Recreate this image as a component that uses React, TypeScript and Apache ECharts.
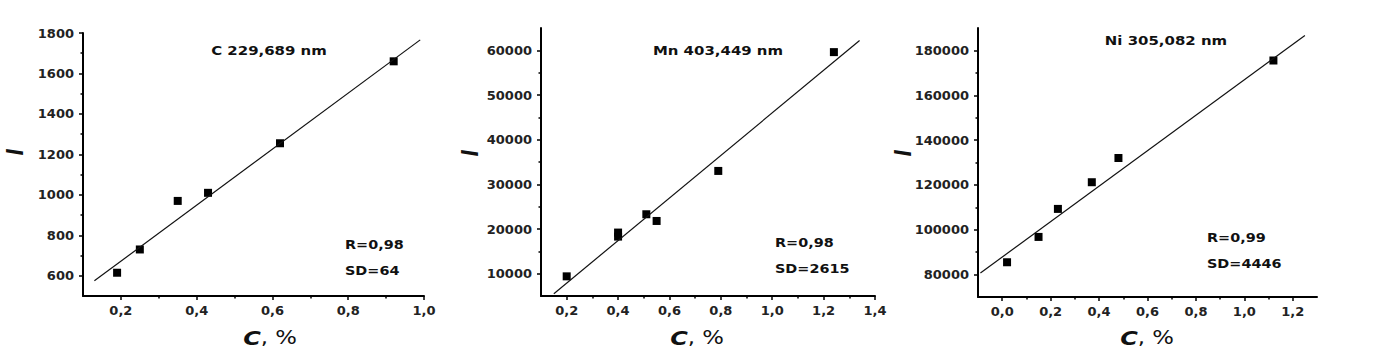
import React, { useEffect, useRef } from "react";
import * as echarts from "echarts";

// ---- Panel 1: C 229,689 nm
const cConc = [0.19, 0.25, 0.35, 0.43, 0.62, 0.92];
const cIntensity = [615, 730, 970, 1010, 1255, 1660];
const cFitConc = [0.13, 0.99];
const cFitIntensity = [575, 1766];
const cXTicks = [0.2, 0.4, 0.6, 0.8, 1.0];
const cXMinor = [0.3, 0.5, 0.7, 0.9];
const cYTicks = [600, 800, 1000, 1200, 1400, 1600, 1800];
const cYMinor = [700, 900, 1100, 1300, 1500, 1700];

// ---- Panel 2: Mn 403,449 nm
const mnConc = [0.2, 0.4, 0.4, 0.51, 0.55, 0.79, 1.24];
const mnIntensity = [9400, 18300, 19200, 23300, 21800, 33000, 59600];
const mnFitConc = [0.15, 1.34];
const mnFitIntensity = [5500, 62200];
const mnXTicks = [0.2, 0.4, 0.6, 0.8, 1.0, 1.2, 1.4];
const mnXMinor = [0.3, 0.5, 0.7, 0.9, 1.1, 1.3];
const mnYTicks = [10000, 20000, 30000, 40000, 50000, 60000];
const mnYMinor = [15000, 25000, 35000, 45000, 55000];

// ---- Panel 3: Ni 305,082 nm
const niConc = [0.02, 0.15, 0.23, 0.37, 0.48, 1.12];
const niIntensity = [85500, 96800, 109300, 121200, 132000, 175500];
const niFitConc = [-0.09, 1.25];
const niFitIntensity = [80700, 186700];
const niXTicks = [0.0, 0.2, 0.4, 0.6, 0.8, 1.0, 1.2];
const niXMinor = [0.1, 0.3, 0.5, 0.7, 0.9, 1.1];
const niYTicks = [80000, 100000, 120000, 140000, 160000, 180000];
const niYMinor = [90000, 110000, 130000, 150000, 170000];

const titles = ["C 229,689 nm", "Mn 403,449 nm", "Ni 305,082 nm"];
const rValues = ["R=0,98", "R=0,98", "R=0,99"];
const sdValues = ["SD=64", "SD=2615", "SD=4446"];

const FONT = "DejaVu Sans";
const INK = "#111";

const zip = (a: number[], b: number[]) => a.map((v, i) => [v, b[i]]);

const panels = [
  {
    grid: { left: 83, top: 33, width: 341, height: 263 },
    x: [0.1, 1.0], y: [500, 1800],
    xTicks: cXTicks, xMinor: cXMinor, yTicks: cYTicks, yMinor: cYMinor,
    pts: zip(cConc, cIntensity), fit: zip(cFitConc, cFitIntensity),
    title: [269, 50], stats: [345, 245], xName: [270, 338], yName: [15, 152],
  },
  {
    grid: { left: 541, top: 28, width: 334, height: 268 },
    x: [0.1, 1.4], y: [5000, 65000],
    xTicks: mnXTicks, xMinor: mnXMinor, yTicks: mnYTicks, yMinor: mnYMinor,
    pts: zip(mnConc, mnIntensity), fit: zip(mnFitConc, mnFitIntensity),
    title: [718, 50], stats: [775, 243], xName: [697, 338], yName: [470, 153],
  },
  {
    grid: { left: 978, top: 28, width: 339, height: 269 },
    x: [-0.1, 1.3], y: [70000, 190000],
    xTicks: niXTicks, xMinor: niXMinor, yTicks: niYTicks, yMinor: niYMinor,
    pts: zip(niConc, niIntensity), fit: zip(niFitConc, niFitIntensity),
    title: [1166, 40], stats: [1207, 238], xName: [1147, 338], yName: [903, 153],
  },
];

const labelStyle = {
  fontFamily: FONT,
  fontWeight: "bold" as const,
  fontSize: 13,
  color: "#222",
};

function buildOption() {
  const grid: any[] = [];
  const xAxis: any[] = [];
  const yAxis: any[] = [];
  const series: any[] = [];
  const graphic: any[] = [];

  panels.forEach((p, gi) => {
    grid.push({ ...p.grid, containLabel: false, outerBoundsMode: "none" });
    xAxis.push({
      type: "value", gridIndex: gi, min: p.x[0], max: p.x[1], position: "bottom",
      axisLine: { onZero: false, lineStyle: { color: "#000", width: 2 } },
      axisTick: { customValues: p.xTicks, length: 4, lineStyle: { color: "#000", width: 1.5 } },
      axisLabel: {
        customValues: p.xTicks, margin: 8, ...labelStyle,
        formatter: (v: number) => v.toFixed(1).replace(".", ","),
      },
      splitLine: { show: false },
    });
    xAxis.push({
      type: "value", gridIndex: gi, min: p.x[0], max: p.x[1], position: "bottom",
      axisLine: { show: false, onZero: false },
      axisTick: { customValues: p.xMinor, length: 2.5, lineStyle: { color: "#000", width: 1.5 } },
      axisLabel: { show: false },
      splitLine: { show: false },
    });
    yAxis.push({
      type: "value", gridIndex: gi, min: p.y[0], max: p.y[1], position: "left",
      axisLine: { show: true, onZero: false, lineStyle: { color: "#000", width: 2 } },
      axisTick: { show: true, customValues: p.yTicks, length: 4, lineStyle: { color: "#000", width: 1.5 } },
      axisLabel: {
        customValues: p.yTicks, margin: 9, ...labelStyle,
        formatter: (v: number) => String(v),
      },
      splitLine: { show: false },
    });
    yAxis.push({
      type: "value", gridIndex: gi, min: p.y[0], max: p.y[1], position: "left",
      axisLine: { show: false, onZero: false },
      axisTick: { show: true, customValues: p.yMinor, length: 2.5, lineStyle: { color: "#000", width: 1.5 } },
      axisLabel: { show: false },
      splitLine: { show: false },
    });

    series.push({
      type: "line", xAxisIndex: gi * 2, yAxisIndex: gi * 2,
      data: p.fit, symbol: "none", silent: true,
      lineStyle: { color: "#111", width: 1.2 },
    });
    series.push({
      type: "scatter", xAxisIndex: gi * 2, yAxisIndex: gi * 2,
      data: p.pts, symbol: "rect", symbolSize: 8,
      itemStyle: { color: "#000", opacity: 1 },
    });

    graphic.push({
      type: "text", x: p.title[0], y: p.title[1], scaleX: 1.15,
      style: {
        text: titles[gi], font: `bold 13px "${FONT}"`, fill: INK,
        align: "center", verticalAlign: "middle",
      },
    });
    graphic.push({
      type: "text", x: p.stats[0], y: p.stats[1], scaleX: 1.2,
      style: {
        text: rValues[gi], font: `bold 12px "${FONT}"`, fill: INK,
        align: "left", verticalAlign: "middle",
      },
    });
    graphic.push({
      type: "text", x: p.stats[0], y: p.stats[1] + 26, scaleX: 1.2,
      style: {
        text: sdValues[gi], font: `bold 12px "${FONT}"`, fill: INK,
        align: "left", verticalAlign: "middle",
      },
    });
    graphic.push({
      type: "text", x: p.xName[0], y: p.xName[1], scaleX: 1.2,
      style: {
        text: "{i|C}, %",
        font: `19px "${FONT}"`, fill: INK,
        align: "center", verticalAlign: "middle",
        rich: { i: { fontStyle: "italic", fontWeight: "bold", fontSize: 20, fontFamily: FONT, fill: INK } },
      },
    });
    graphic.push({
      type: "text", x: p.yName[0], y: p.yName[1], rotation: Math.PI / 2, scaleY: 1.3,
      style: {
        text: "I", font: `italic bold 18px "${FONT}"`, fill: INK,
        align: "center", verticalAlign: "middle",
      },
    });
  });

  return {
    animation: false,
    backgroundColor: "#fff",
    grid, xAxis, yAxis, series, graphic,
  };
}

export default function App() {
  const ref = useRef<HTMLDivElement>(null);
  useEffect(() => {
    if (!ref.current) return;
    const chart = echarts.init(ref.current, null, { renderer: "svg" });
    chart.setOption(buildOption());
    return () => chart.dispose();
  }, []);
  return (
    <div
      ref={ref}
      style={{ position: "absolute", left: 0, top: 0, width: 1376, height: 364 }}
    />
  );
}
